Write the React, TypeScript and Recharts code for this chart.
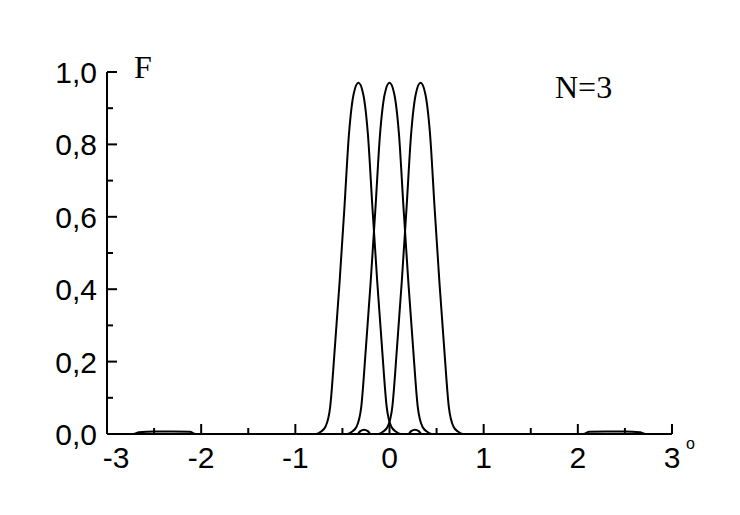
import React from 'react';
import { Line, LineChart, XAxis, YAxis } from 'recharts';

// beam pattern readings, F against angle
const leftBeam = [
  { x: -3, f: 0 }, { x: -0.78, f: 0 }, { x: -0.73, f: 0.006 }, { x: -0.68, f: 0.02 },
  { x: -0.63, f: 0.075 }, { x: -0.58, f: 0.24 }, { x: -0.53, f: 0.42 }, { x: -0.48, f: 0.62 },
  { x: -0.43, f: 0.83 }, { x: -0.38, f: 0.94 }, { x: -0.33, f: 0.97 }, { x: -0.28, f: 0.94 },
  { x: -0.23, f: 0.83 }, { x: -0.18, f: 0.62 }, { x: -0.13, f: 0.42 }, { x: -0.08, f: 0.24 },
  { x: -0.03, f: 0.075 }, { x: 0.02, f: 0.02 }, { x: 0.07, f: 0.006 }, { x: 0.12, f: 0 },
  { x: 0.2, f: 0 }, { x: 0.23, f: 0.008 }, { x: 0.27, f: 0.012 }, { x: 0.31, f: 0.008 },
  { x: 0.34, f: 0 }, { x: 3, f: 0 },
];

const centerBeam = [
  { x: -3, f: 0 }, { x: -2.72, f: 0 }, { x: -2.66, f: 0.005 }, { x: -2.5, f: 0.007 },
  { x: -2.3, f: 0.007 }, { x: -2.12, f: 0.006 }, { x: -2.06, f: 0 }, { x: -0.45, f: 0 },
  { x: -0.4, f: 0.006 }, { x: -0.35, f: 0.02 }, { x: -0.3, f: 0.075 }, { x: -0.25, f: 0.24 },
  { x: -0.2, f: 0.42 }, { x: -0.15, f: 0.62 }, { x: -0.1, f: 0.83 }, { x: -0.05, f: 0.94 },
  { x: 0, f: 0.97 }, { x: 0.05, f: 0.94 }, { x: 0.1, f: 0.83 }, { x: 0.15, f: 0.62 },
  { x: 0.2, f: 0.42 }, { x: 0.25, f: 0.24 }, { x: 0.3, f: 0.075 }, { x: 0.35, f: 0.02 },
  { x: 0.4, f: 0.006 }, { x: 0.45, f: 0 }, { x: 2.06, f: 0 }, { x: 2.12, f: 0.006 },
  { x: 2.3, f: 0.007 }, { x: 2.5, f: 0.007 }, { x: 2.66, f: 0.005 }, { x: 2.72, f: 0 },
  { x: 3, f: 0 },
];

const rightBeam = [
  { x: -3, f: 0 }, { x: -0.34, f: 0 }, { x: -0.31, f: 0.008 }, { x: -0.27, f: 0.012 },
  { x: -0.23, f: 0.008 }, { x: -0.2, f: 0 }, { x: -0.12, f: 0 }, { x: -0.07, f: 0.006 },
  { x: -0.02, f: 0.02 }, { x: 0.03, f: 0.075 }, { x: 0.08, f: 0.24 }, { x: 0.13, f: 0.42 },
  { x: 0.18, f: 0.62 }, { x: 0.23, f: 0.83 }, { x: 0.28, f: 0.94 }, { x: 0.33, f: 0.97 },
  { x: 0.38, f: 0.94 }, { x: 0.43, f: 0.83 }, { x: 0.48, f: 0.62 }, { x: 0.53, f: 0.42 },
  { x: 0.58, f: 0.24 }, { x: 0.63, f: 0.075 }, { x: 0.68, f: 0.02 }, { x: 0.73, f: 0.006 },
  { x: 0.78, f: 0 }, { x: 3, f: 0 },
];

const xMajorTicks = [-3, -2, -1, 0, 1, 2, 3];
const xTickLabels = ['-3', '-2', '-1', '0', '1', '2', '3'];
const xMinorTicks = [-2.5, -1.5, -0.5, 0.5, 1.5, 2.5];

const yMajorTicks = [0, 0.2, 0.4, 0.6, 0.8, 1.0];
const yTickLabels = ['0,0', '0,2', '0,4', '0,6', '0,8', '1,0'];
const yMinorTicks = [0.1, 0.3, 0.5, 0.7, 0.9];

const tickFont = '"Liberation Sans", Arial, sans-serif';
const labelFont = '"Liberation Serif", "Times New Roman", serif';

const XTick = (props: any) => {
  const { x, y, payload } = props;
  const i = xMajorTicks.indexOf(payload.value);
  const major = i >= 0;
  return (
    <g>
      <line x1={x} y1={y} x2={x} y2={y - (major ? 10 : 6)} stroke="#000" strokeWidth={2} />
      {major && (
        <text x={x + (i === 0 ? 9 : 0)} y={y + 34} textAnchor="middle" fontFamily={tickFont} fontSize={30} fill="#000">
          {xTickLabels[i]}
        </text>
      )}
      {major && i === xMajorTicks.length - 1 && (
        <text x={x + 14} y={y + 15} fontFamily={tickFont} fontSize={16} fill="#000">o</text>
      )}
    </g>
  );
};

const YTick = (props: any) => {
  const { x, y, payload } = props;
  const i = yMajorTicks.indexOf(payload.value);
  const major = i >= 0;
  return (
    <g>
      <line x1={x} y1={y} x2={x + (major ? 10 : 6)} y2={y} stroke="#000" strokeWidth={2} />
      {major && (
        <text x={x - 10} y={y + 11} textAnchor="end" fontFamily={tickFont} fontSize={30} fill="#000">
          {yTickLabels[i]}
        </text>
      )}
    </g>
  );
};

export default function App() {
  return (
    <div style={{ position: 'relative', width: 732, height: 507 }}>
      <LineChart width={732} height={507} margin={{ top: 64, right: 68, bottom: 31, left: 19 }}>
        <XAxis
          type="number"
          dataKey="x"
          domain={[-3, 3]}
          ticks={[...xMajorTicks, ...xMinorTicks].sort((a, b) => a - b)}
          interval={0}
          height={50}
          tickSize={0}
          tickMargin={0}
          tickLine={false}
          axisLine={{ stroke: '#000', strokeWidth: 2 }}
          tick={<XTick />}
          allowDataOverflow
        />
        <YAxis
          type="number"
          domain={[0, 1]}
          ticks={[...yMajorTicks, ...yMinorTicks].sort((a, b) => a - b)}
          interval={0}
          width={80}
          tickSize={0}
          tickMargin={0}
          tickLine={false}
          axisLine={{ stroke: '#000', strokeWidth: 2 }}
          tick={<YTick />}
          allowDataOverflow
        />
        <Line data={leftBeam} dataKey="f" type="monotone" stroke="#000" strokeWidth={2} dot={false} isAnimationActive={false} />
        <Line data={centerBeam} dataKey="f" type="monotone" stroke="#000" strokeWidth={2} dot={false} isAnimationActive={false} />
        <Line data={rightBeam} dataKey="f" type="monotone" stroke="#000" strokeWidth={2} dot={false} isAnimationActive={false} />
      </LineChart>
      <svg width={732} height={507} style={{ position: 'absolute', left: 0, top: 0, pointerEvents: 'none' }}>
        <text x={126} y={70} fontFamily={labelFont} fontSize={32} fill="#000">F</text>
        <text x={547} y={90} fontFamily={labelFont} fontSize={32} fill="#000">N=3</text>
      </svg>
    </div>
  );
}
